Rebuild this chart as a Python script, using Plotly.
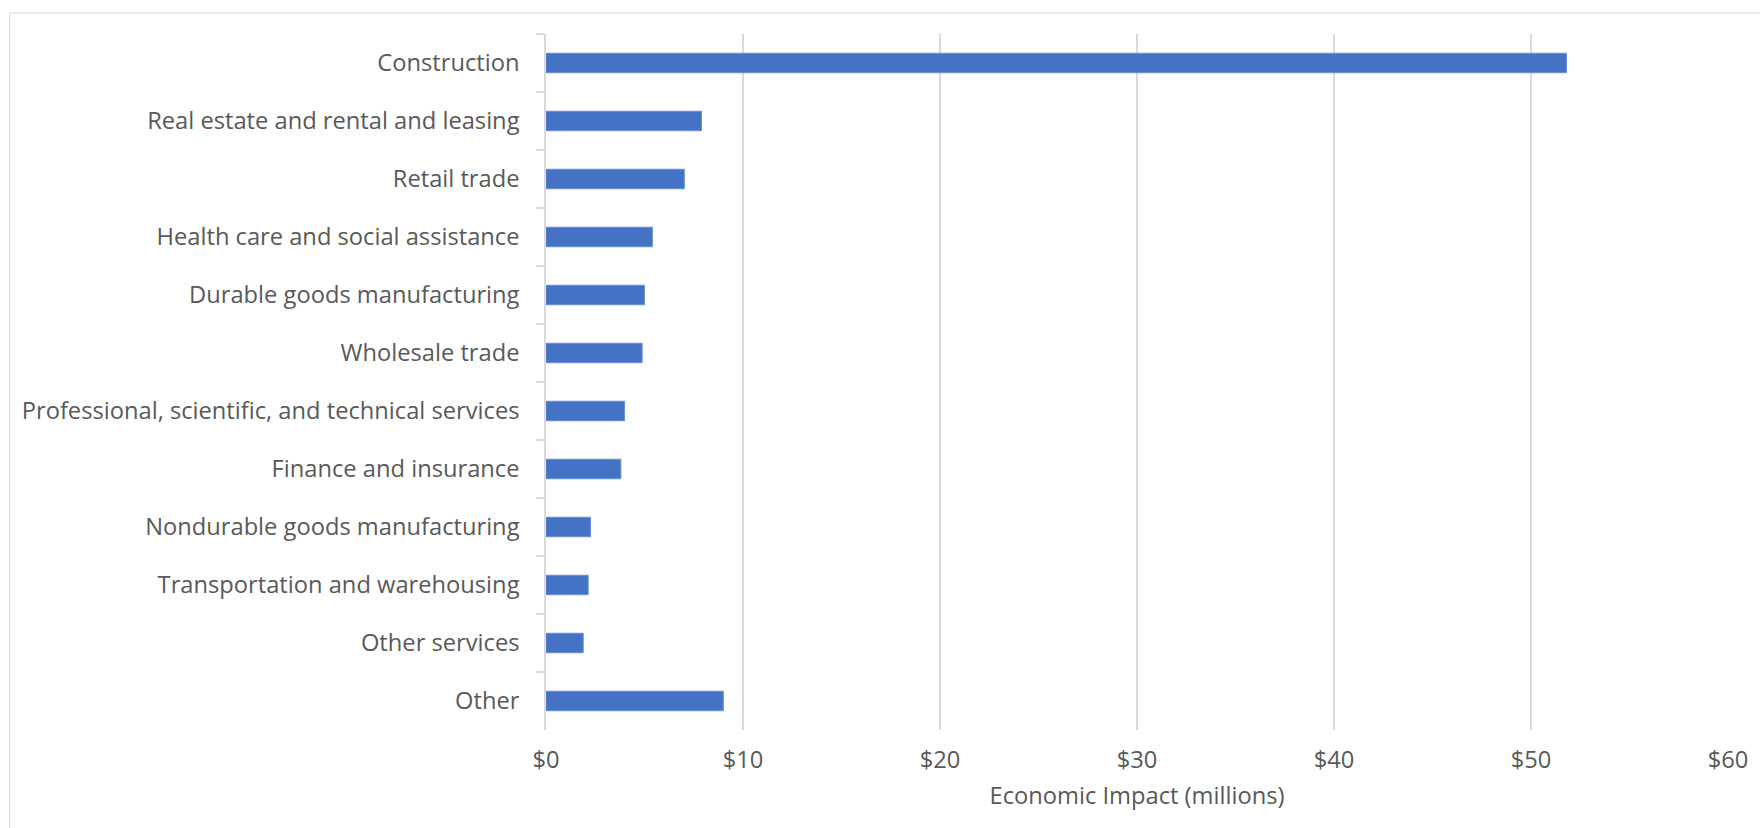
import plotly.graph_objects as go

categories = [
    "Construction",
    "Real estate and rental and leasing",
    "Retail trade",
    "Health care and social assistance",
    "Durable goods manufacturing",
    "Wholesale trade",
    "Professional, scientific, and technical services",
    "Finance and insurance",
    "Nondurable goods manufacturing",
    "Transportation and warehousing",
    "Other services",
    "Other",
]
values = [51.8, 7.89, 7.02, 5.40, 5.00, 4.88, 3.99, 3.80, 2.26, 2.14, 1.89, 9.00]
x_ticks = [0, 10, 20, 30, 40, 50, 60]
x_title = "Economic Impact (millions)"

FONT = "Open Sans"
GRAY = "#595959"
FS = 23.7

fig = go.Figure(
    go.Bar(
        x=values,
        y=categories,
        orientation="h",
        marker=dict(color="#4472C4", line=dict(color="#6a8fd6", width=1)),
        hoverinfo="x+y",
    )
)

fig.update_layout(
    width=1760,
    height=828,
    margin=dict(l=546, r=26, t=34, b=98),
    paper_bgcolor="white",
    plot_bgcolor="white",
    bargap=0.664,
    showlegend=False,
    font=dict(family=FONT, size=FS, color=GRAY),
    shapes=[
        dict(
            type="rect", xref="paper", yref="paper",
            x0=-0.4537, x1=1.05, y0=-0.2, y1=1.0302,
            line=dict(color="#d9d9d9", width=1),
            fillcolor="rgba(0,0,0,0)", layer="below",
        )
    ],
)

fig.update_xaxes(
    range=[0, 60],
    tickvals=x_ticks,
    ticktext=[f"${v}" for v in x_ticks],
    showgrid=True,
    gridcolor="#d9d9d9",
    gridwidth=1.5,
    zeroline=False,
    showline=False,
    ticks="outside",
    ticklen=9,
    tickcolor="rgba(0,0,0,0)",
    tickfont=dict(family=FONT, size=FS, color=GRAY),
    title=dict(text=x_title, font=dict(family=FONT, size=FS, color=GRAY), standoff=12),
    fixedrange=True,
)

fig.update_yaxes(
    categoryorder="array",
    categoryarray=categories,
    autorange="reversed",
    showline=True,
    linecolor="#d9d9d9",
    linewidth=1.5,
    ticks="outside",
    tickson="boundaries",
    ticklen=8,
    tickcolor="#d9d9d9",
    tickwidth=1.5,
    ticklabelstandoff=20,
    showgrid=False,
    tickfont=dict(family=FONT, size=FS, color=GRAY),
    fixedrange=True,
)

fig.write_html("out.html")
